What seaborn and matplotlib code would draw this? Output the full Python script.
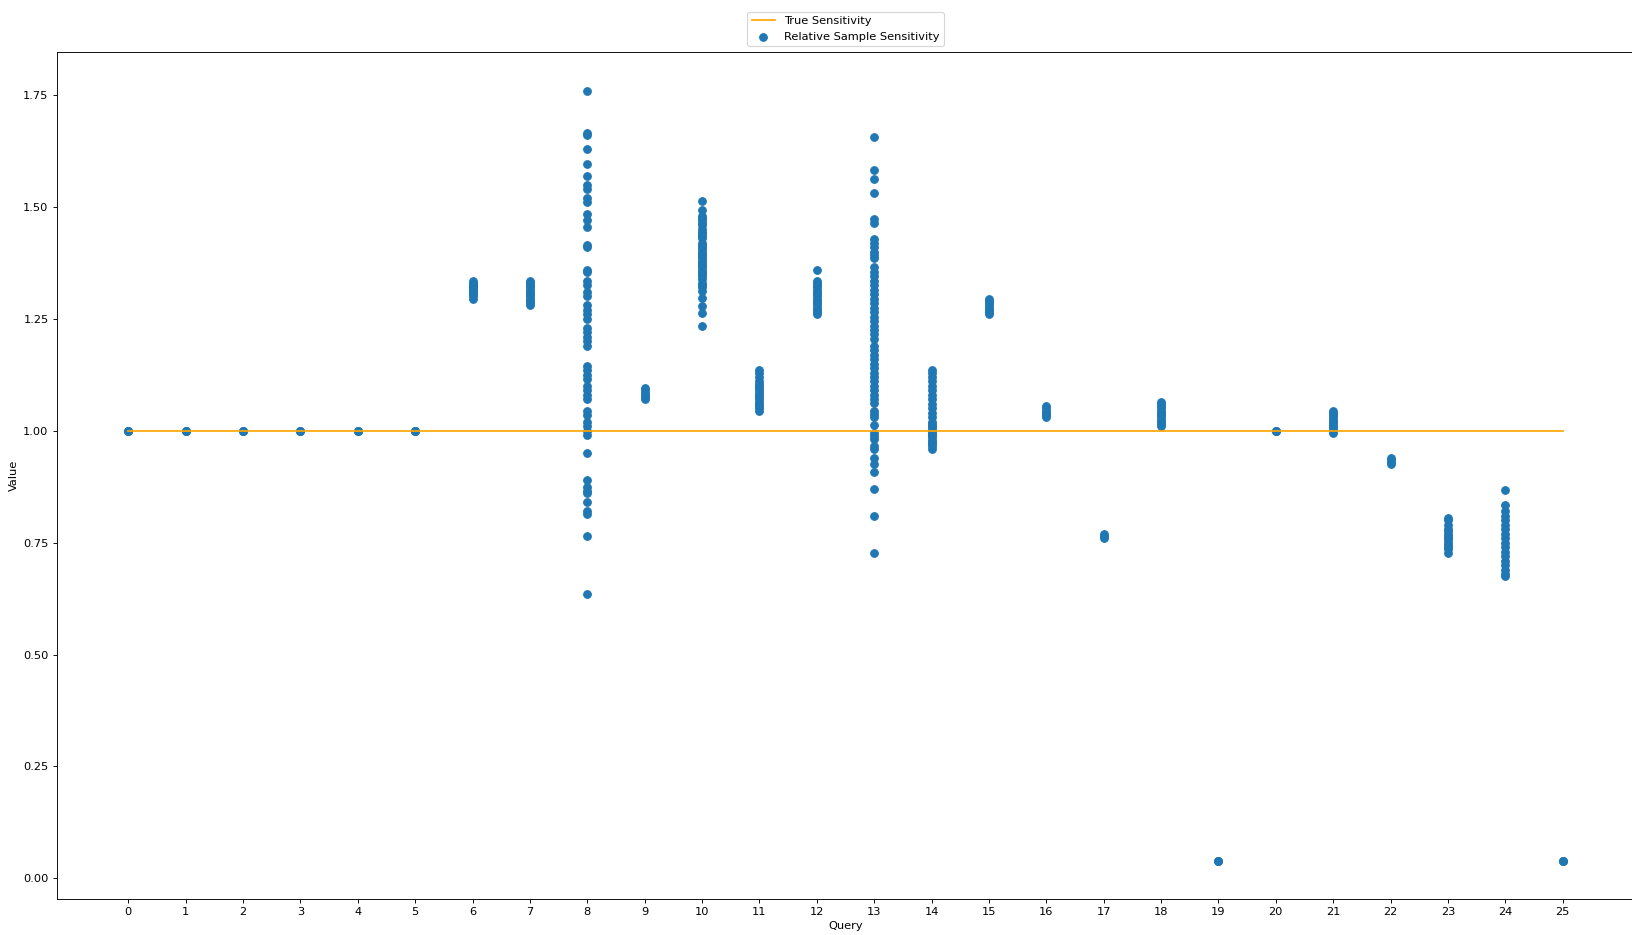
import numpy as np
import pandas as pd
import seaborn as sns
import matplotlib
matplotlib.use("Agg")
import matplotlib.pyplot as plt

# sample sensitivities read per query
q0 = [1.0, 1.0, 1.0]
q1 = [1.0, 1.0, 1.0]
q2 = [1.0, 1.0, 1.0]
q3 = [1.0, 1.0, 1.0]
q4 = [1.0, 1.0, 1.0]
q5 = [1.0, 1.0, 1.0]
q6 = [1.295, 1.30, 1.305, 1.31, 1.312, 1.315, 1.318, 1.32, 1.322, 1.325, 1.328, 1.33, 1.335]
q7 = [1.28, 1.285, 1.29, 1.295, 1.30, 1.305, 1.31, 1.315, 1.32, 1.325, 1.33, 1.335]
q8 = [1.76, 1.665, 1.66, 1.63, 1.595, 1.57, 1.55, 1.54, 1.52, 1.51, 1.485, 1.47,
      1.455, 1.415, 1.41, 1.36, 1.355, 1.335, 1.325, 1.31, 1.30, 1.28, 1.27, 1.26,
      1.25, 1.23, 1.22, 1.21, 1.20, 1.19, 1.145, 1.135, 1.125, 1.115, 1.10, 1.09,
      1.08, 1.07, 1.045, 1.035, 1.02, 1.01, 1.0, 0.99, 0.95, 0.89, 0.875, 0.865,
      0.86, 0.84, 0.82, 0.815, 0.765, 0.635]
q9 = [1.07, 1.075, 1.08, 1.085, 1.09, 1.095]
q10 = [1.235, 1.263, 1.278, 1.296, 1.313, 1.32, 1.325, 1.33, 1.34, 1.345, 1.35,
       1.355, 1.36, 1.365, 1.37, 1.375, 1.38, 1.385, 1.39, 1.395, 1.40, 1.405,
       1.41, 1.415, 1.42, 1.43, 1.435, 1.44, 1.445, 1.45, 1.46, 1.465, 1.47,
       1.475, 1.48, 1.492, 1.513]
q11 = [1.045, 1.05, 1.055, 1.06, 1.065, 1.07, 1.075, 1.08, 1.085, 1.09, 1.095,
       1.10, 1.105, 1.11, 1.12, 1.13, 1.135]
q12 = [1.26, 1.265, 1.27, 1.275, 1.28, 1.285, 1.29, 1.295, 1.30, 1.305, 1.31,
       1.315, 1.32, 1.325, 1.33, 1.335, 1.36]
q13 = [1.656, 1.583, 1.563, 1.53, 1.472, 1.464, 1.429, 1.42, 1.41, 1.40, 1.392,
       1.385, 1.366, 1.355, 1.345, 1.335, 1.325, 1.315, 1.305, 1.295, 1.285, 1.275,
       1.265, 1.255, 1.245, 1.235, 1.225, 1.215, 1.205, 1.19, 1.18, 1.17, 1.16,
       1.15, 1.14, 1.13, 1.12, 1.11, 1.10, 1.09, 1.08, 1.07, 1.061, 1.045, 1.038,
       1.031, 1.012, 0.994, 0.988, 0.982, 0.967, 0.96, 0.938, 0.926, 0.907, 0.87,
       0.809, 0.728]
q14 = [0.96, 0.965, 0.97, 0.975, 0.98, 0.985, 0.99, 0.995, 1.0, 1.005, 1.01,
       1.015, 1.02, 1.03, 1.04, 1.05, 1.06, 1.07, 1.08, 1.09, 1.10, 1.11, 1.12,
       1.13, 1.135]
q15 = [1.26, 1.265, 1.27, 1.275, 1.28, 1.285, 1.29, 1.295]
q16 = [1.03, 1.035, 1.04, 1.045, 1.05, 1.055]
q17 = [0.76, 0.765, 0.77]
q18 = [1.01, 1.015, 1.02, 1.025, 1.03, 1.035, 1.04, 1.045, 1.05, 1.055, 1.06, 1.065]
q19 = [0.04, 0.04, 0.04]
q20 = [1.0, 1.0, 1.0]
q21 = [0.995, 1.0, 1.005, 1.01, 1.015, 1.02, 1.025, 1.03, 1.035, 1.04, 1.045]
q22 = [0.925, 0.93, 0.935, 0.94]
q23 = [0.728, 0.735, 0.74, 0.745, 0.75, 0.755, 0.76, 0.765, 0.77, 0.775, 0.78,
       0.79, 0.80, 0.806]
q24 = [0.675, 0.68, 0.69, 0.70, 0.71, 0.72, 0.73, 0.74, 0.75, 0.76, 0.77, 0.78,
       0.79, 0.80, 0.81, 0.82, 0.835, 0.868]
q25 = [0.04, 0.04, 0.04]

samples = [q0, q1, q2, q3, q4, q5, q6, q7, q8, q9, q10, q11, q12, q13, q14, q15,
           q16, q17, q18, q19, q20, q21, q22, q23, q24, q25]
queries = list(range(len(samples)))
true_sens = [1.0] * len(queries)

rows = []
for q, vals in zip(queries, samples):
    for v in vals:
        rows.append({"Query": q, "Value": v})
df = pd.DataFrame(rows)
line_df = pd.DataFrame({"Query": queries, "Value": true_sens})

# big figure at a low dpi, so the text comes out small like the original
DPI = 81.6
fig = plt.figure(figsize=(1632 / DPI, 935 / DPI), dpi=DPI)
# right spine runs just past the image edge, like in the original
ax = fig.add_axes([56.5 / 1632, 1 - 899 / 935, (1634.5 - 56.5) / 1632, (899 - 52) / 935])

sns.lineplot(data=line_df, x="Query", y="Value", color="orange",
             label="True Sensitivity", ax=ax)
sns.scatterplot(data=df, x="Query", y="Value", color="#1f77b4", edgecolor="#1f77b4",
                s=45, linewidth=1, label="Relative Sample Sensitivity", ax=ax)

ax.set_xticks(queries)
ax.set_xlim(-1.25, 26.25)
ax.set_ylim(-0.046, 1.846)
ax.set_yticks([0.0, 0.25, 0.5, 0.75, 1.0, 1.25, 1.5, 1.75])
ax.yaxis.set_major_formatter(matplotlib.ticker.FormatStrFormatter("%.2f"))
ax.set_xlabel("Query")
ax.set_ylabel("Value")
ax.legend(loc="lower center", bbox_to_anchor=(0.5, 1.0))

fig.savefig("out.png", dpi=DPI)
